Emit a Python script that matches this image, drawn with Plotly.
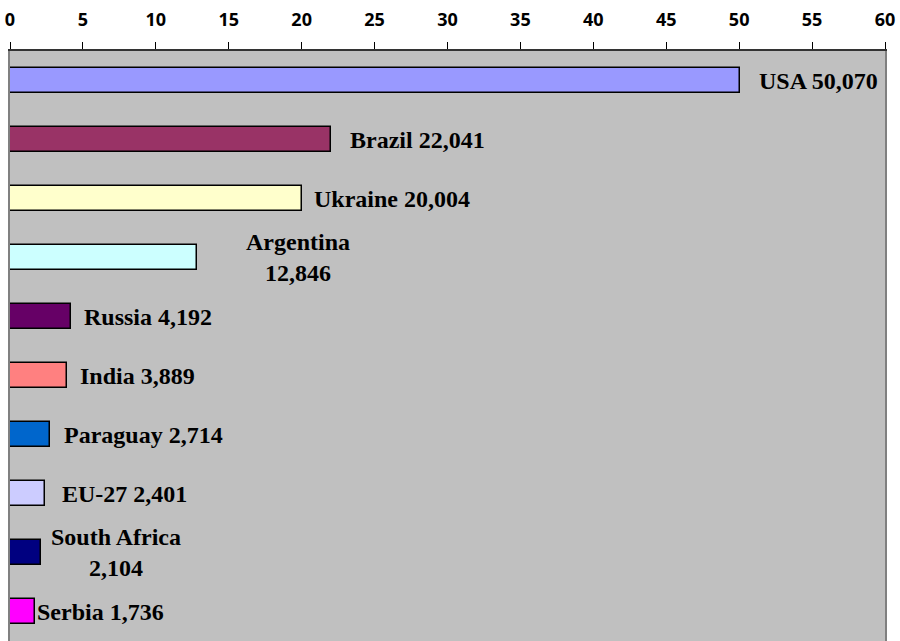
import plotly.graph_objects as go

# Producers and their output (thousand tonnes); axis shows millions
countries = ["USA", "Brazil", "Ukraine", "Argentina", "Russia", "India",
             "Paraguay", "EU-27", "South Africa", "Serbia"]
values_kt = [50070, 22041, 20004, 12846, 4192, 3889, 2714, 2401, 2104, 1736]
bar_colors = ["#9999FF", "#993366", "#FFFFCC", "#CCFFFF", "#660066", "#FF8080",
              "#0066CC", "#CCCCFF", "#000080", "#FF00FF"]
label_breaks = {"Argentina": True, "South Africa": True}
label_shift = [17, 17, 10, 47, 11, 11, 12, 15, 8, 0]
tick_vals = list(range(0, 61, 5))
tick_text = [f"<b>{t}</b>" for t in tick_vals]

values_m = [v / 1000 for v in values_kt]

fig = go.Figure(go.Bar(
    x=values_m,
    y=countries,
    orientation="h",
    marker=dict(color=bar_colors, line=dict(color="#000000", width=1.5)),
    width=0.41,
    hoverinfo="skip",
))

for name, vm, vk, sh in zip(countries, values_m, values_kt, label_shift):
    sep = "<br>" if label_breaks.get(name) else " "
    fig.add_annotation(
        x=vm, y=name, xref="x", yref="y",
        text=f"<b>{name}{sep}{vk:,}</b>",
        showarrow=False, xanchor="left", yanchor="middle", align="center",
        xshift=sh,
        font=dict(family="Liberation Serif", size=24, color="#000000"),
    )

fig.update_layout(
    width=900, height=641,
    margin=dict(l=10, r=15, t=51, b=0),
    paper_bgcolor="#FFFFFF",
    plot_bgcolor="#C0C0C0",
    showlegend=False,
    bargap=0,
)
fig.update_xaxes(
    side="top", range=[0, 60], tickvals=tick_vals, ticktext=tick_text,
    ticks="outside", ticklen=7, tickcolor="#000000", tickwidth=1,
    showgrid=False, zeroline=False,
    showline=True, linecolor="#333333", linewidth=1.5,
    tickfont=dict(family="Open Sans", size=18, color="#000000"),
    ticklabelstandoff=9,
)
fig.update_yaxes(
    autorange="reversed", showticklabels=False, showgrid=False,
    zeroline=False, ticks="", showline=True, mirror=True,
    linecolor="#808080", linewidth=2,
)

fig.write_html("out.html")
